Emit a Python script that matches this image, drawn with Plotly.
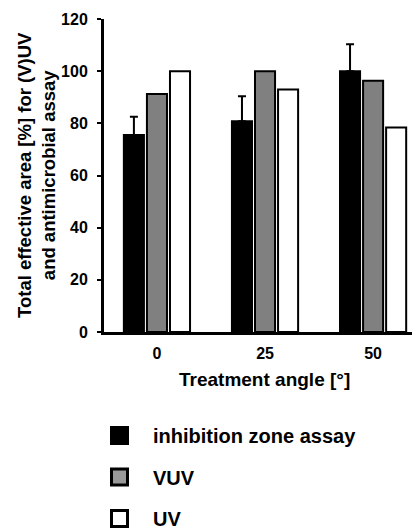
import plotly.graph_objects as go

angles = ["0", "25", "50"]
inhibition = [75.5, 80.8, 100.0]
inhibition_err = [7.0, 9.6, 10.3]
vuv = [91.2, 100.0, 96.3]
uv = [100.0, 93.0, 78.4]

series_names = ["inhibition zone assay", "VUV", "UV"]
bar_colors = ["#000000", "#808080", "#ffffff"]
legend_colors = ["#000000", "#999999", "#ffffff"]

FONT = "Liberation Sans, Arial, sans-serif"
xpos = list(range(len(angles)))

fig = go.Figure()
fig.add_trace(go.Bar(
    x=xpos, y=inhibition, name=series_names[0], showlegend=False,
    marker=dict(color=bar_colors[0], line=dict(color="black", width=2)),
    error_y=dict(type="data", array=inhibition_err, arrayminus=[0, 0, 0],
                 color="black", thickness=2, width=4),
))
fig.add_trace(go.Bar(
    x=xpos, y=vuv, name=series_names[1], showlegend=False,
    marker=dict(color=bar_colors[1], line=dict(color="black", width=2)),
))
fig.add_trace(go.Bar(
    x=xpos, y=uv, name=series_names[2], showlegend=False,
    marker=dict(color=bar_colors[2], line=dict(color="black", width=2)),
))

for i, nm in enumerate(series_names):
    fig.add_trace(go.Scatter(
        x=[None], y=[None], mode="markers", name=nm, legendgroup=nm,
        marker=dict(symbol="square", size=16, color=legend_colors[i],
                    line=dict(color="black", width=3)),
    ))

fig.update_layout(
    width=412, height=531,
    margin=dict(l=104, r=0, t=19, b=199, autoexpand=False),
    paper_bgcolor="white", plot_bgcolor="white",
    barmode="group", bargap=0.36, bargroupgap=0.13,
    font=dict(family=FONT, size=15, color="black", weight="bold"),
    showlegend=True,
    legend=dict(
        xref="container", yref="container",
        x=86 / 412, y=1 - 416 / 531, xanchor="left", yanchor="top",
        traceorder="grouped", tracegroupgap=12.5, itemwidth=57,
        font=dict(family=FONT, size=20, color="black", weight="bold"),
        bgcolor="rgba(0,0,0,0)",
    ),
    xaxis=dict(
        range=[-0.49, 2.36],
        tickmode="array", tickvals=xpos, ticktext=angles,
        showline=True, linecolor="black", linewidth=3,
        ticks="", showgrid=False, zeroline=False, ticklabelstandoff=5,
        tickfont=dict(family=FONT, size=16, color="black", weight="bold"),
    ),
    yaxis=dict(
        range=[0, 120], dtick=20, tick0=0,
        showline=True, linecolor="black", linewidth=3,
        ticks="outside", ticklen=4, tickwidth=2, tickcolor="black",
        showgrid=False, zeroline=False, ticklabelstandoff=6,
        tickfont=dict(family=FONT, size=16, color="black", weight="bold"),
    ),
    annotations=[
        dict(text="Total effective area [%] for (V)UV<br>and antimicrobial assay",
             xref="paper", yref="paper", x=(36 - 104) / 308, y=(332 - 175) / 313,
             xanchor="center", yanchor="middle", textangle=-90,
             showarrow=False,
             font=dict(family=FONT, size=18.5, color="black", weight="bold")),
        dict(text="Treatment angle [°]",
             xref="paper", yref="paper", x=(264 - 104) / 308, y=-(379 - 332) / 313,
             xanchor="center", yanchor="middle",
             showarrow=False,
             font=dict(family=FONT, size=19, color="black", weight="bold")),
    ],
)

fig.write_html("out.html")
